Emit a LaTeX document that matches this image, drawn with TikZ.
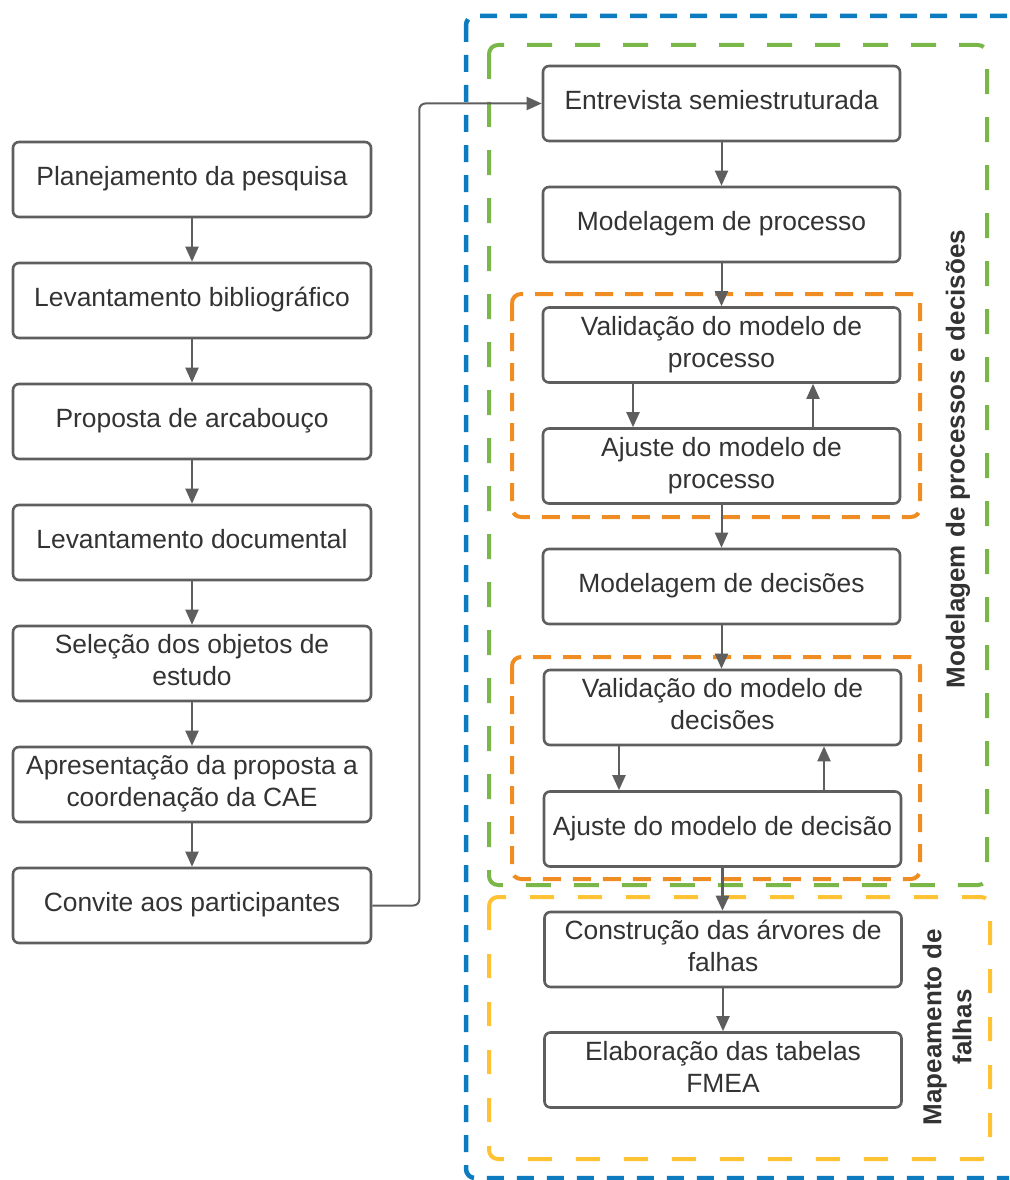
\documentclass[tikz,border=0pt]{standalone}
\usepackage{fontspec}
\setmainfont{Liberation Sans}
\usetikzlibrary{arrows.meta}
\definecolor{boxline}{HTML}{5E5E5E}
\definecolor{txt}{HTML}{333333}
\definecolor{lcblue}{HTML}{0C7BC0}
\definecolor{lcgreen}{HTML}{7AB648}
\definecolor{lcorange}{HTML}{EF8D22}
\definecolor{lcyellow}{HTML}{FFC233}
\tikzset{
  stepbox/.style={draw=boxline, line width=2.6pt, rounded corners=6pt, fill=white,
    minimum width=357pt, minimum height=75pt, inner sep=0pt, align=center,
    text height=20pt, text depth=8pt,
    text=txt, font=\fontsize{26.4}{32}\selectfont},
  twoline/.style={text height=52pt},
  arr/.style={draw=boxline, line width=2pt, -{Triangle[length=15pt,width=13pt]}},
  group/.style={line width=4pt, rounded corners=9pt},
  sidelabel/.style={rotate=90, align=center, text=txt, inner sep=0pt}
}
\begin{document}
\begin{tikzpicture}[x=1pt,y=-1pt]
\useasboundingbox (0,0) rectangle (1009,1180);

% grouping frames
\begin{scope}
  \clip (0,0) rectangle (1009,1180);
  \draw[group, lcblue, line width=4.5pt, dash pattern=on 17pt off 13pt] (466,16) rectangle (1040,1178);
\end{scope}
\draw[group, lcgreen, dash pattern=on 25pt off 23pt] (489,45) rectangle (987,885);
\draw[group, lcorange, dash pattern=on 18pt off 12pt] (512,294) rectangle (920,517);
\draw[group, lcorange, dash pattern=on 18pt off 12pt] (512,657) rectangle (920,879);
\draw[group, lcyellow, dash pattern=on 24pt off 24pt] (489,897) rectangle (990,1159);

% group labels
\node[sidelabel, font=\fontsize{26}{30}\selectfont\bfseries] (lblmod) at (958,459) {Modelagem de processos e decisões};
\node[sidelabel, font=\fontsize{26}{30}\selectfont\bfseries] (lblmap) at (947,1027) {Mapeamento de\\falhas};

% left column
\node[stepbox, minimum width=358pt] (plan) at (192,179.5) {Planejamento da pesquisa};
\node[stepbox, minimum width=358pt] (biblio) at (192,300.5) {Levantamento bibliográfico};
\node[stepbox, minimum width=358pt] (arcab) at (192,421.5) {Proposta de arcabouço};
\node[stepbox, minimum width=358pt] (docum) at (192,542.5) {Levantamento documental};
\node[stepbox, twoline, minimum width=358pt] (selec) at (192,663.5) {Seleção dos objetos de\\estudo};
\node[stepbox, twoline, minimum width=358pt] (apres) at (192,784.5) {Apresentação da proposta a\\coordenação da CAE};
\node[stepbox, minimum width=358pt] (conv) at (192,905.5) {Convite aos participantes};

% right column
\node[stepbox] (entrev) at (721.5,103.5) {Entrevista semiestruturada};
\node[stepbox] (modproc) at (721.5,224.5) {Modelagem de processo};
\node[stepbox, twoline] (valproc) at (721.5,345) {Validação do modelo de\\processo};
\node[stepbox, twoline] (ajproc) at (721.5,466) {Ajuste do modelo de\\processo};
\node[stepbox] (moddec) at (721.5,586.5) {Modelagem de decisões};
\node[stepbox, twoline] (valdec) at (722.5,707.5) {Validação do modelo de\\decisões};
\node[stepbox] (ajdec) at (722.5,829) {Ajuste do modelo de decisão};
\node[stepbox, twoline] (constr) at (723,949.5) {Construção das árvores de\\falhas};
\node[stepbox, twoline] (elab) at (723,1070) {Elaboração das tabelas\\FMEA};

% connectors, left column
\draw[arr] (plan) -- (biblio);
\draw[arr] (biblio) -- (arcab);
\draw[arr] (arcab) -- (docum);
\draw[arr] (docum) -- (selec);
\draw[arr] (selec) -- (apres);
\draw[arr] (apres) -- (conv);
\draw[arr, rounded corners=6pt] (conv.east) -- ++(47,0) |- (entrev.west);

% connectors, right column
\draw[arr] (entrev) -- (modproc);
\draw[arr] (modproc) -- (valproc);
\draw[arr] (valproc.south -| 633,0) -- (ajproc.north -| 633,0);
\draw[arr] (ajproc.north -| 813,0) -- (valproc.south -| 813,0);
\draw[arr] (ajproc) -- (moddec);
\draw[arr] (moddec.south) -- (valdec.north -| moddec.south);
\draw[arr] (valdec.south -| 619,0) -- (ajdec.north -| 619,0);
\draw[arr] (ajdec.north -| 824,0) -- (valdec.south -| 824,0);
\draw[arr, line width=3pt] (ajdec.south) -- (constr.north -| ajdec.south);
\draw[arr] (constr) -- (elab);
\end{tikzpicture}
\end{document}
